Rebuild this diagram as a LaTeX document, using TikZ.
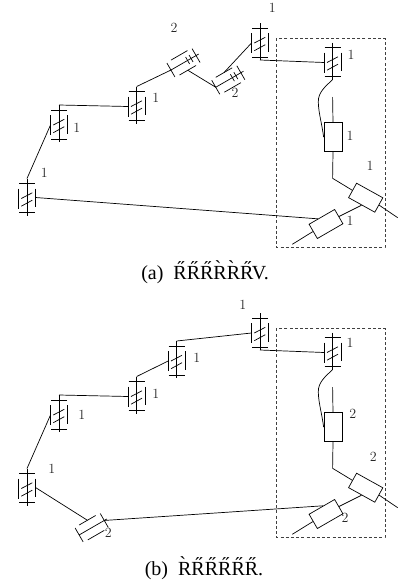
\documentclass[tikz,border=0pt]{standalone}
\usepackage{fontspec}
\newfontfamily\capfont{Liberation Serif}
\usetikzlibrary{calc}
\tikzset{
  wire/.style={line width=0.7pt,black},
  partline/.style={line width=0.7pt,black},
  framebox/.style={line width=0.9pt,black!75,dash pattern=on 3pt off 2.2pt},
  rectbox/.style={draw,line width=0.7pt,fill=none,inner sep=0pt,minimum width=#1,minimum height=16.5pt},
  lab/.style={inner sep=0pt,font=\fontsize{14}{14}\selectfont,text=black!85},
  captionlab/.style={inner sep=0pt,anchor=base,font=\capfont\fontsize{20}{20}\selectfont}
}
% straight gear pair: name, centre, with slanted marks
\newcommand{\jointA}[2]{%
  \begin{scope}[shift={(#2)},partline]
    \draw (0,-19.5) -- (0,17.5);
    \draw (-8,-14.5) -- (8,-14.5);
    \draw (-8,14.5) -- (8,14.5);
    \draw (-8.5,-9.5) -- (-8.5,10.5);
    \draw (8.5,-9.5) -- (8.5,9);
    \draw (-5.7,0.5) -- (5.3,-5.2);
    \draw (-5.7,8.2) -- (5.3,2.2);
    \coordinate (#1-t) at (0,-19.5);
    \coordinate (#1-b) at (0,17.5);
    \coordinate (#1-l) at (-8.5,0.5);
    \coordinate (#1-r) at (8.5,-0.5);
  \end{scope}}
% tilted pair: name, centre, ticks (0/1)
\newcommand{\jointB}[3]{%
  \begin{scope}[shift={(#2)},rotate=-60,partline]
    \draw (0,-17.5) -- (0,14.5);
    \draw (-8,-14.5) -- (8,-14.5);
    \draw (-8,14.5) -- (8,14.5);
    \draw (-8.6,-9.5) -- (-8.6,9.5);
    \draw (8.6,-9.5) -- (8.6,9.5);
    \ifnum#3=1
      \draw (-4,-4.7) -- (4,-4.7);
      \draw (-4,-8.7) -- (4,-8.7);
    \fi
    \coordinate (#1-t) at (0,-14.5);
    \coordinate (#1-b) at (0,14.5);
    \coordinate (#1-l) at (-8.6,0);
    \coordinate (#1-r) at (8.6,0);
  \end{scope}}
\begin{document}
\begin{tikzpicture}[x=1pt,y=-1pt]
\useasboundingbox (0,0) rectangle (398,584);
% ---------- (a)
\jointA{aa}{27,198}
\jointA{ab}{59,124.5}
\jointA{ac}{136.7,106}
\jointB{ad}{183.5,62.8}{1}
\jointA{ae}{260,42.5}
\jointB{af}{228.3,80}{1}
\jointA{ag}{332.7,62}
\draw[framebox] (276,38.3) rectangle (385,247);
\node[rectbox=18pt,minimum height=29pt,minimum width=18pt] (ar) at (333,137.2) {};
\node[rectbox=30pt,rotate=-29] (as) at (365.7,197.7) {};
\node[rectbox=29.5pt,rotate=30] (at) at (326,224) {};
\coordinate (aw1) at (332.6,97);
\coordinate (aw2) at (332.6,178.3);
\coordinate (aw3) at (397.7,217.7);
\coordinate (aw4) at (292.3,244.3);
\draw[wire] (aa-t) -- (ab-l);
\draw[wire] (ab-t) -- (ac-l);
\draw[wire] (ac-t) -- (ad-b);
\draw[wire] (ad-r) -- (af-b);
\draw[wire] (ae-l) -- (af-l);
\draw[wire] (ae-b) -- (ag-l);
\draw[wire] (ag-b) .. controls (326,86) and (318,92) .. (318.3,102) .. controls (318.5,113) and (322,124) .. (ar.west);
\draw[wire] (aw1) -- (ar.north);
\draw[wire] (ar.south) -- (aw2) -- (as.west);
\draw[wire] (as.east) -- (aw3);
\draw[wire] (at.west) -- (aw4);
\draw[wire] (at.east) -- (as.south);
\draw[wire] (aa-r) -- ($(at.north west)!0.35!(at.north east)$);
\node[lab] (la1) at (44.3,172.7) {1};
\node[lab] (la2) at (76.7,128) {1};
\node[lab] (la3) at (155.7,98) {1};
\node[lab] (la4) at (174,28) {2};
\node[lab] (la5) at (272.3,8) {1};
\node[lab] (la6) at (235,92.7) {2};
\node[lab] (la7) at (351,55) {1};
\node[lab] (la8) at (350,136) {1};
\node[lab] (la9) at (370,165.7) {1};
\node[lab] (la10) at (350,220.7) {1};
\node[captionlab] (ca) at (205,279) {(a)\ \ \H{R}\H{R}\H{R}\`{R}\`{R}\H{R}V.};
% ---------- (b)
\jointA{ba}{27,488}
\jointA{bb}{59,414.5}
\jointA{bc}{136.7,396}
\jointA{bd}{176.7,360.5}
\jointA{be}{260,332.5}
\jointB{bf}{91.7,527.7}{0}
\jointA{bg}{332.7,352}
\draw[framebox] (276,328.3) rectangle (385,537);
\node[rectbox=18pt,minimum height=29pt,minimum width=18pt] (br) at (333,427.2) {};
\node[rectbox=30pt,rotate=-29] (bs) at (365.7,487.7) {};
\node[rectbox=29.5pt,rotate=30] (bt) at (326,514) {};
\coordinate (bw1) at (332.6,387);
\coordinate (bw2) at (332.6,468.3);
\coordinate (bw3) at (397.7,507.7);
\coordinate (bw4) at (292.3,534.3);
\draw[wire] (ba-t) -- (bb-l);
\draw[wire] (bb-t) -- (bc-l);
\draw[wire] (bc-t) -- (bd-l);
\draw[wire] (bd-t) -- (be-l);
\draw[wire] (be-b) -- (bg-l);
\draw[wire] (ba-r) -- (bf-l);
\draw[wire] (bf-t) -- ($(bt.north west)!0.55!(bt.north east)$);
\draw[wire] (bg-b) .. controls (326,376) and (318,382) .. (318.3,392) .. controls (318.5,403) and (322,414) .. (br.west);
\draw[wire] (bw1) -- (br.north);
\draw[wire] (br.south) -- (bw2) -- (bs.west);
\draw[wire] (bs.east) -- (bw3);
\draw[wire] (bt.west) -- (bw4);
\draw[wire] (bt.east) -- (bs.south);
\node[lab] (lb1) at (51.7,469) {1};
\node[lab] (lb2) at (81.7,415) {1};
\node[lab] (lb3) at (155.7,394) {1};
\node[lab] (lb4) at (196.7,358) {1};
\node[lab] (lb5) at (242.7,305) {1};
\node[lab] (lb6) at (108.3,532.7) {2};
\node[lab] (lb7) at (350,342.7) {1};
\node[lab] (lb8) at (352.7,414.3) {2};
\node[lab] (lb9) at (373.3,457.3) {2};
\node[lab] (lb10) at (345,518.3) {2};
\node[captionlab] (cb) at (204,575) {(b)\ \ \`{R}\H{R}\H{R}\H{R}\H{R}\H{R}.};
\end{tikzpicture}
\end{document}
